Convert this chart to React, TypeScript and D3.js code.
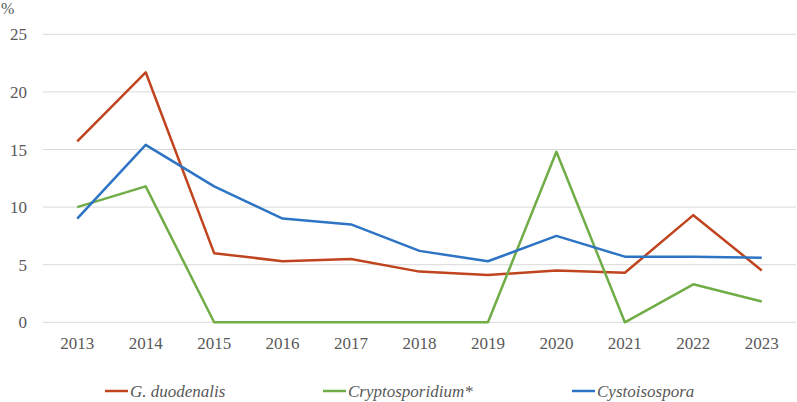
import React from 'react';
import * as d3 from 'd3';

const years = ['2013', '2014', '2015', '2016', '2017', '2018', '2019', '2020', '2021', '2022', '2023'];
const giardia = [15.7, 21.7, 6.0, 5.3, 5.5, 4.4, 4.1, 4.5, 4.3, 9.3, 4.5];
const crypto = [10.0, 11.8, 0, 0, 0, 0, 0, 14.8, 0, 3.3, 1.8];
const cysto = [9.0, 15.4, 11.8, 9.0, 8.5, 6.2, 5.3, 7.5, 5.7, 5.7, 5.6];
const yTicks = [0, 5, 10, 15, 20, 25];

const series = [
  { name: 'G. duodenalis', values: giardia, color: '#C0441E', legendX: 105 },
  { name: 'Cryptosporidium*', values: crypto, color: '#70AD47', legendX: 323 },
  { name: 'Cystoisospora', values: cysto, color: '#2E74C4', legendX: 572 },
];

const width = 797;
const height = 402;
const font = "'Liberation Serif', monospace";
const textColor = '#595959';

const x = d3.scaleBand().domain(years).range([43, 796]);
const y = d3.scaleLinear().domain([0, 25]).range([322.3, 34.3]);
const cx = (yr: string) => x(yr)! + x.bandwidth() / 2;

const line = d3.line<number>()
  .x((_, i) => cx(years[i]))
  .y(d => y(d));

const App = () => (
  <svg width={width} height={height} style={{ position: 'absolute', left: 0, top: 0 }}>
    {/* gridlines */}
    {yTicks.map(t => (
      <line key={'g' + t} x1={43} x2={796} y1={y(t)} y2={y(t)} stroke="#d9d9d9" strokeWidth={1} />
    ))}
    {/* y labels */}
    {yTicks.map(t => (
      <text key={'y' + t} x={27} y={y(t) + 6} textAnchor="end" fontSize={17} fill={textColor}
        style={{ fontFamily: font }}>
        {t}
      </text>
    ))}
    <text x={1} y={14} fontSize={16} fill={textColor} style={{ fontFamily: font }}>%</text>
    {/* x labels */}
    {years.map(yr => (
      <text key={yr} x={cx(yr)} y={349} textAnchor="middle" fontSize={17} fill={textColor}
        style={{ fontFamily: font }}>
        {yr}
      </text>
    ))}
    {/* series lines */}
    {series.map(s => (
      <path key={s.name} d={line(s.values) ?? ''} fill="none" stroke={s.color} strokeWidth={2.5}
        strokeLinejoin="round" />
    ))}
    {/* legend */}
    {series.map(s => (
      <g key={'l' + s.name}>
        <line x1={s.legendX} x2={s.legendX + 23} y1={391} y2={391} stroke={s.color} strokeWidth={2.5} />
        <text x={s.legendX + 25} y={397} fontSize={17} fontStyle="italic" fill={textColor}
          style={{ fontFamily: font }}>
          {s.name}
        </text>
      </g>
    ))}
  </svg>
);

export default App;
